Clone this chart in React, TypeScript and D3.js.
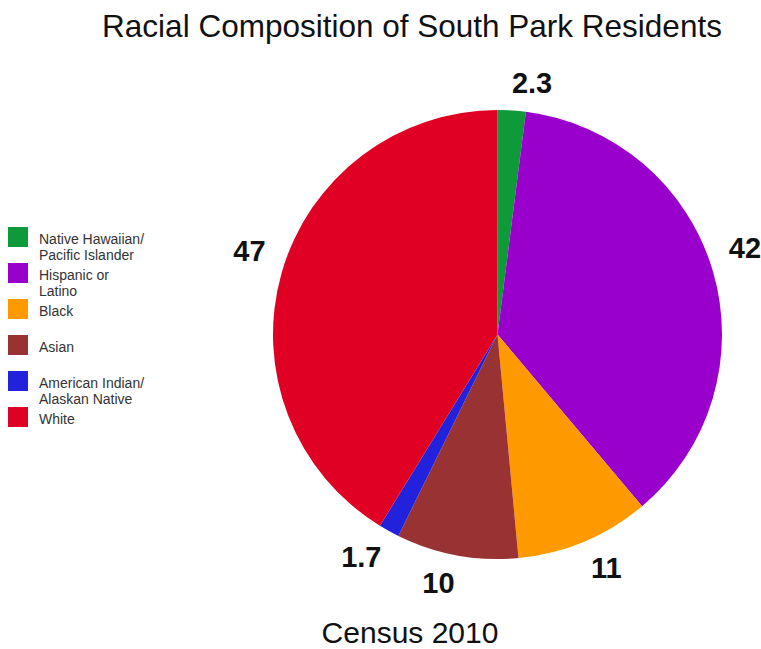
import React from "react";
import * as d3 from "d3";

const categories = [
  "Native Hawaiian/\nPacific Islander",
  "Hispanic or\nLatino",
  "Black",
  "Asian",
  "American Indian/\nAlaskan Native",
  "White",
];
const values = [2.3, 42, 11, 10, 1.7, 47];
const labels = ["2.3", "42", "11", "10", "1.7", "47"];
const colors = ["#0f9a3a", "#9900cc", "#ff9900", "#993333", "#2222dd", "#e00024"];

const W = 761;
const H = 649;
const cx = 497.5;
const cy = 334.5;
const R = 224.5;
const anchorR = 242;
const labelFont = 29;

function textWidth(s: string, fs: number) {
  let w = 0;
  for (const ch of s) w += ch === "." ? 0.278 : 0.556;
  return w * fs - 0.06 * fs;
}

export default function App() {
  const pie = d3.pie<number>().sort(null).value((d) => d);
  const arcs = pie(values);
  const arcGen = d3.arc<d3.PieArcDatum<number>>().innerRadius(0).outerRadius(R);
  const anchorArc = d3.arc<d3.PieArcDatum<number>>().innerRadius(anchorR).outerRadius(anchorR);

  return (
    <svg
      width={W}
      height={H}
      style={{ position: "absolute", left: 0, top: 0, background: "#fff" }}
      fontFamily="'Liberation Sans', Arial, sans-serif"
    >
      <rect width={W} height={H} fill="#fff" />
      <text x={412} y={37} textAnchor="middle" fontSize={31.5} fill="#111">
        Racial Composition of South Park Residents
      </text>
      <g transform={`translate(${cx},${cy})`}>
        {arcs.map((a, i) => (
          <path key={i} d={arcGen(a) || ""} fill={colors[i]} />
        ))}
        {arcs.map((a, i) => {
          const [px, py] = anchorArc.centroid(a);
          const mid = (a.startAngle + a.endAngle) / 2;
          const w = textWidth(labels[i], labelFont);
          const h = 0.716 * labelFont;
          const sx = Math.sin(mid) >= 0 ? 1 : -1;
          const sy = -Math.cos(mid) >= 0 ? 1 : -1;
          // side labels sit a little higher, as in the reference
          const lift = Math.abs(Math.sin(mid)) > 0.9 ? -8 : 0;
          const x = px + sx * w / 2;
          const y = py + sy * h / 2 + lift;
          return (
            <text
              key={"l" + i}
              x={x}
              y={y + h / 2}
              textAnchor="middle"
              fontSize={labelFont}
              fontWeight="bold"
              fill="#111"
            >
              {labels[i]}
            </text>
          );
        })}
      </g>
      <g>
        {categories.map((c, i) => {
          const top = 227 + i * 36;
          const lines = c.split("\n");
          return (
            <g key={"lg" + i}>
              <rect x={8} y={top} width={20} height={20} fill={colors[i]} />
              {lines.map((ln, j) => (
                <text
                  key={j}
                  x={39}
                  y={top + (lines.length > 1 ? 17 : 16.5) + j * 15.5}
                  fontSize={14}
                  fill="#333"
                >
                  {ln}
                </text>
              ))}
            </g>
          );
        })}
      </g>
      <text x={410} y={643} textAnchor="middle" fontSize={30} fill="#111">
        Census 2010
      </text>
    </svg>
  );
}
